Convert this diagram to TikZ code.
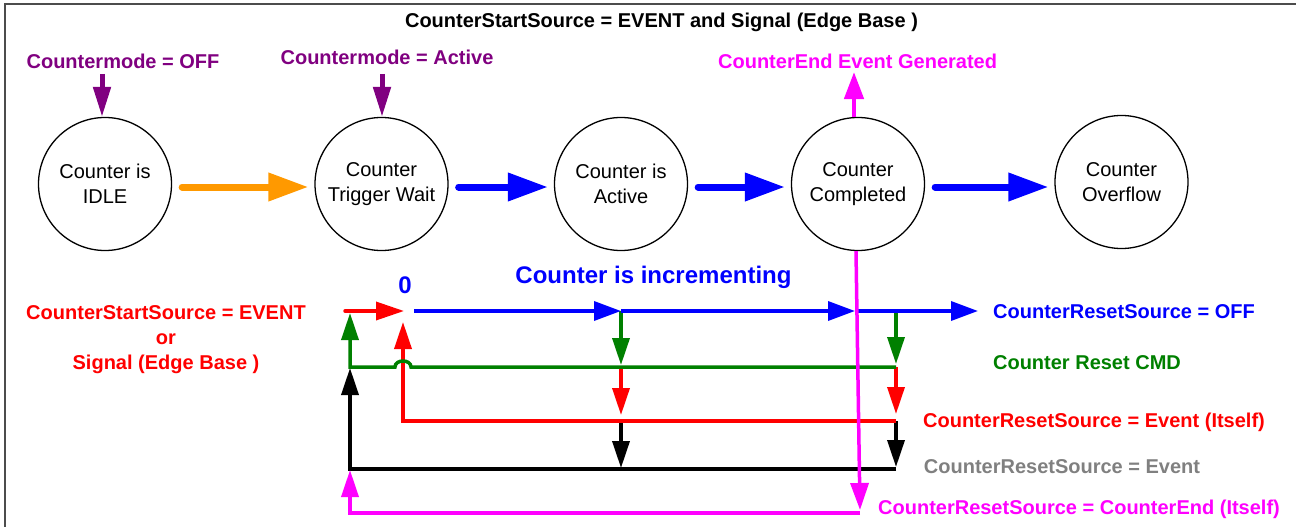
\documentclass[tikz,border=0pt]{standalone}
\usepackage{fontspec}
\setmainfont{Liberation Sans}
\usetikzlibrary{arrows.meta}
\definecolor{cpurple}{HTML}{800080}
\definecolor{corange}{HTML}{FF9900}
\definecolor{cblue}{HTML}{0000FF}
\definecolor{cgreen}{HTML}{008000}
\definecolor{cred}{HTML}{FF0000}
\definecolor{cmag}{HTML}{FF00FF}
\definecolor{cgray}{HTML}{808080}
\begin{document}
\begin{tikzpicture}[x=1pt,y=-1pt,
  state/.style={circle,draw,line width=1.3pt,minimum size=133pt,inner sep=0pt,align=center,font=\fontsize{20}{25}\selectfont},
  lbl/.style={font=\bfseries\fontsize{20}{25}\selectfont,inner sep=0pt,anchor=base},
  bigarr/.style={line width=7pt,line cap=round,-{Triangle[length=40pt,width=27pt]},shorten <=10pt,shorten >=6pt},
  ptip/.style={line width=5pt,-{Triangle[length=30pt,width=17pt]}},
  ln/.style={line width=3.5pt,line join=miter},
  tip/.style={-{Triangle[length=27pt,width=17pt]}},
  btip/.style={-{Triangle[length=27pt,width=19pt]}},
]
\useasboundingbox (0,0) rectangle (1296,527);
\draw[line width=1.5pt,black!70] (5,527) -- (5,4) -- (1296,4);

% title
\node[lbl] (title) at (661.5,28) {CounterStartSource = EVENT and Signal (Edge Base )};

% states
\node[state] (idle) at (105,184) {Counter is\\IDLE};
\node[state] (wait) at (381.5,184) {Counter\\Trigger Wait};
\node[state] (active) at (621,184) {Counter is\\Active};
\node[state] (done) at (858,184) {Counter\\Completed};
\node[state] (ovf) at (1121.5,182) {Counter\\Overflow};

\draw[bigarr,corange] ([yshift=-3pt]idle.east) -- ([yshift=-3pt]wait.west);
\draw[bigarr,cblue] ([yshift=-3pt]wait.east) -- ([yshift=-3pt]active.west);
\draw[bigarr,cblue] ([yshift=-3pt]active.east) -- ([yshift=-3pt]done.west);
\draw[bigarr,cblue] ([yshift=-3pt]done.east) -- ([yshift=-3pt]done.east -| ovf.west);

% top labels
\node[lbl,cpurple] (modeOff) at (123,68.7) {Countermode = OFF};
\coordinate (offS) at (102,74);
\draw[ptip,cpurple] (offS) -- (offS |- idle.north);
\node[lbl,cpurple] (modeAct) at (387,64) {Countermode = Active};
\coordinate (actS) at (382,74);
\draw[ptip,cpurple] (actS) -- (actS |- wait.north);
\node[lbl,cmag] (endGen) at (857.6,68.7) {CounterEnd Event Generated};
\coordinate (endTip) at (854,72);
\draw[cmag,line width=4.5pt,-{Triangle[length=27pt,width=19pt]}] (endTip |- done.north) -- (endTip);

% lower labels
\node[lbl,cred,align=center,anchor=center] (startLbl) at (166,340) {CounterStartSource = EVENT\\or\\Signal (Edge Base )};
\node[lbl,cblue,font=\bfseries\fontsize{24}{28}\selectfont] (zero) at (405,293.6) {0};
\node[lbl,cblue,font=\bfseries\fontsize{24}{28}\selectfont] (incr) at (653.5,283.6) {Counter is incrementing};
\node[lbl,cblue] (offLbl) at (1124,318.7) {CounterResetSource = OFF};
\node[lbl,cgreen] (cmdLbl) at (1087,369.3) {Counter Reset CMD};
\node[lbl,cred] (evItLbl) at (1094,427) {CounterResetSource = Event (Itself)};
\node[lbl,cgray] (evLbl) at (1062,473.7) {CounterResetSource = Event};
\node[lbl,cmag] (endItLbl) at (1079,514.7) {CounterResetSource = CounterEnd (Itself)};

% coordinates
\coordinate (rS) at (345,311);
\coordinate (rT) at (404,311);
\coordinate (bS) at (414,311);
\coordinate (bM) at (621,311);
\coordinate (bN) at (855,311);
\coordinate (bE) at (978,311);
\coordinate (bR) at (896,311);
\coordinate (gM) at (621,367);
\coordinate (gR) at (896,367);
\coordinate (gL) at (350,367);
\coordinate (gTip) at (350,313);
\coordinate (rdM) at (621,421);
\coordinate (rdR) at (896,421);
\coordinate (rdL) at (403,421);
\coordinate (rdTip) at (403,322);
\coordinate (kM) at (621,469);
\coordinate (kR) at (896,469);
\coordinate (kL) at (350,469);
\coordinate (kTip) at (350,368);
\coordinate (mB) at (860,513);
\coordinate (mL) at (350,513);
\coordinate (mTip) at (350,470);
\coordinate (mDown) at (860,510);

% black
\draw[ln,black,tip] (kR) -- (kL) -- (kTip);
\draw[ln,black,tip,shorten >=1pt] (rdM) -- (kM);
\draw[ln,black,tip,shorten >=2pt] (rdR) -- (kR);
% red
\draw[ln,cred,tip] (rdR) -- (rdL) -- (rdTip);
\draw[ln,cred,tip,shorten >=6pt] (gM) -- (rdM);
\draw[ln,cred,tip,shorten >=7pt] (gR) -- (rdR);
% green
\draw[ln,cgreen,tip] (gR) -- (411,367) .. controls (411,359) and (395,359) .. (395,367) -- (gL) -- (gTip);
\draw[ln,cgreen,tip,shorten >=2pt] (bM) -- (gM);
\draw[ln,cgreen,tip,shorten >=3pt] (bR) -- (gR);
% red start
\draw[ln,cred,line cap=round,-{Triangle[length=28pt,width=18pt]}] (rS) -- (rT);
% blue
\draw[ln,cblue,btip] (bS) -- (bM);
\draw[ln,cblue,btip] (bM) -- (bN);
\draw[ln,cblue,btip] (bN) -- (bE);
% magenta
\draw[ln,cmag,tip] (mB) -- (mL) -- (mTip);
\draw[ln,cmag,-{Triangle[length=27pt,width=18pt]}] ([xshift=-2pt]done.south) -- (mDown);
\end{tikzpicture}
\end{document}
